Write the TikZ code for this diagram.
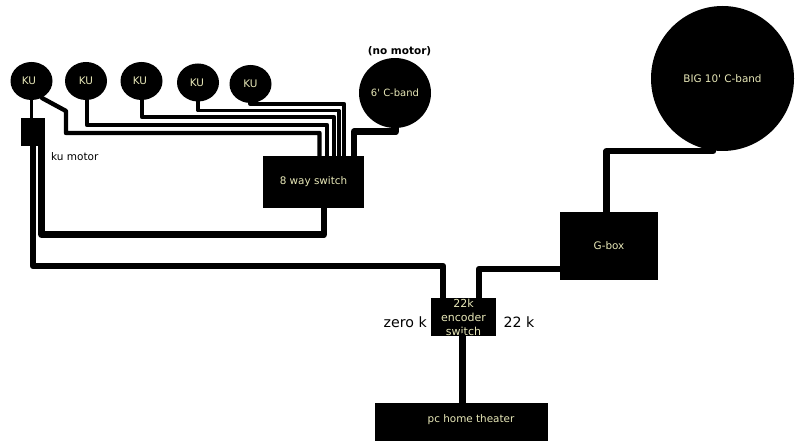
\documentclass[tikz,border=0pt]{standalone}
\usepackage{fontspec}
\setmainfont{DejaVu Sans}
\usetikzlibrary{shapes.geometric}
\definecolor{lbl}{HTML}{E8E8B8}
\tikzset{
  dish/.style={ellipse,fill=black,draw=none,inner sep=0pt,minimum width=#1},
  boxn/.style={rectangle,fill=black,draw=none,inner sep=0pt,text=lbl,align=center},
  wire/.style={line width=4.4pt,line join=round,line cap=round},
  thinwire/.style={line width=3.6pt,line join=round,line cap=round},
  wirethick/.style={line width=6.4pt,line join=round,line cap=round},
  lab/.style={inner sep=0pt,text=black},
  ltxt/.style={font=\fontsize{10.4}{12}\selectfont,text=lbl}
}
\begin{document}
\begin{tikzpicture}[x=1pt,y=-1pt]
\useasboundingbox (0,0) rectangle (800,446);
% nodes
\node[dish=42pt,minimum height=38pt,ltxt] (ku1) at (31.5,81) {\kern-5pt KU};
\node[dish=42pt,minimum height=38pt,ltxt] (ku2) at (86,81) {KU};
\node[dish=42pt,minimum height=38pt,ltxt] (ku3) at (141.5,81) {\kern-3pt KU};
\node[dish=42pt,minimum height=38pt,ltxt] (ku4) at (198,82.5) {\kern-2pt KU};
\node[dish=42pt,minimum height=38pt,ltxt] (ku5) at (250.5,84) {KU};
\node[dish=72pt,minimum height=70pt,ltxt,font=\fontsize{10}{12}\selectfont] (c6) at (395,93) {6\textquotesingle{} C-band};
\node[dish=143pt,minimum height=145pt,ltxt] (big) at (722.5,78.5) {BIG 10\textquotesingle{} C-band};
\node[boxn,minimum width=24pt,minimum height=28pt] (motor) at (33,132) {};
\node[boxn,minimum width=101pt,minimum height=52pt,ltxt] (sw) at (313.5,182) {8 way switch};
\node[boxn,minimum width=98pt,minimum height=68pt,ltxt] (gbox) at (609,246) {\raisebox{-2pt}{G-box}};
\node[boxn,minimum width=65pt,minimum height=38pt,font=\fontsize{11}{14}\selectfont,text=lbl] (enc) at (463.5,317) {22k\\encoder\\switch};
\node[boxn,minimum width=173pt,minimum height=38pt] (pc) at (461.5,422) {};
\node[ltxt,inner sep=0pt] (pctxt) at (471,420) {pc home theater};
% labels
\node[lab,font=\fontsize{10.5}{12}\selectfont,anchor=west] (kum) at (51,156.7) {ku motor};
\node[lab,font=\bfseries\fontsize{10.5}{12}\selectfont] (nom) at (399.5,51.7) {(no motor)};
\node[lab,font=\fontsize{14.2}{16}\selectfont] (zk) at (405.3,322.5) {zero k};
\node[lab,font=\fontsize{14.2}{16}\selectfont] (tk) at (519,322) {22 k};
% connectors
\coordinate (a1) at (66,111);
\coordinate (a1s) at (42,98);
\draw[thinwire] (ku1.south) -- (ku1.south |- motor.north);
\draw[wire] (a1s) -- (a1) |- (319.5,133) -- (319.5,0 |- sw.north);
\draw[wire] (ku2.south) ++(1,0) |- (327,125) -- (327,0 |- sw.north);
\draw[wire] (142,0 |- ku3.south) |- (334,117) -- (334,0 |- sw.north);
\draw[thinwire] (198,0 |- ku4.south) |- (339,110.5) -- (339,0 |- sw.north);
\draw[wire] (ku5.south) |- (344,104) -- (344,0 |- sw.north);
\draw[wirethick] (396,0 |- c6.south) |- (354,131.7) -- (354,0 |- sw.north);
\draw[wirethick] (324,0 |- sw.south) |- (41.5,234.7) -- (41.5,0 |- motor.south);
\draw[wirethick] (33,0 |- motor.south) |- (443,266) -- (443,0 |- enc.north);
\draw[wirethick] (479,0 |- enc.north) |- (gbox.west |- 0,269);
\draw[wirethick] (606.5,0 |- gbox.north) |- (713,151);
\draw[wirethick] (462.3,0 |- enc.south) -- (462.3,0 |- pc.north);
\end{tikzpicture}
\end{document}
